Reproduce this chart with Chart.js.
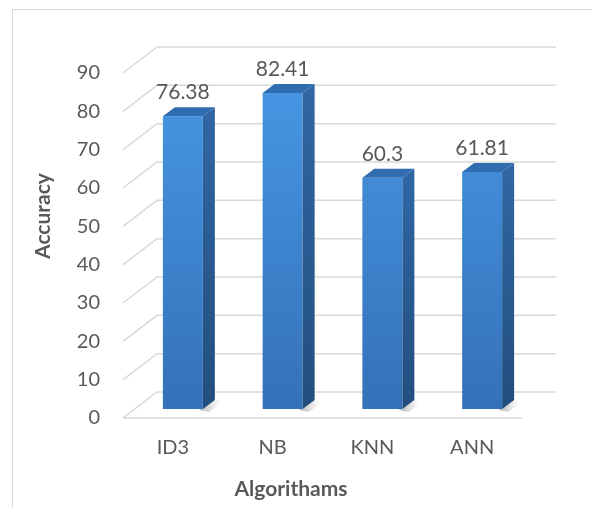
<!DOCTYPE html>
<html>
<head>
<meta charset="utf-8">
<script src="https://cdn.jsdelivr.net/npm/chart.js@4.4.1/dist/chart.umd.min.js"></script>
<style>
  html, body { margin: 0; padding: 0; background: #ffffff; }
  canvas { display: block; }
</style>
</head>
<body>
<canvas id="chart" width="592" height="508"></canvas>
<script>
// Accuracy of each classification algorithm
const categories = ['ID3', 'NB', 'KNN', 'ANN'];
const accuracy = [76.38, 82.41, 60.3, 61.81];
const yTicks = [0, 10, 20, 30, 40, 50, 60, 70, 80, 90];

const TEXT = '#595959';
const GRID = '#d9d9d9';
const FONT = 'Lato, "Open Sans", sans-serif';

// 3D geometry: back wall offset from the front plane, bar plane shift, bar depth
const WALL = { dx: 34, dy: -26 };
const SHIFT = { dx: 10, dy: -9 };
const DEPTH = { dx: 12, dy: -9 };

const box3d = {
  id: 'box3d',
  beforeDraw(chart) {
    const ctx = chart.ctx;
    ctx.save();
    ctx.strokeStyle = GRID;
    ctx.lineWidth = 1;
    ctx.beginPath();
    ctx.moveTo(12.5, chart.height);
    ctx.lineTo(12.5, 9.5);
    ctx.lineTo(chart.width, 9.5);
    ctx.stroke();
    ctx.restore();
  },
  beforeDatasetsDraw(chart) {
    const ctx = chart.ctx;
    const { left, right } = chart.chartArea;
    const y = chart.scales.y;
    ctx.save();
    ctx.strokeStyle = GRID;
    ctx.lineWidth = 1.5;
    yTicks.forEach(v => {
      const py = y.getPixelForValue(v);
      ctx.beginPath();
      ctx.moveTo(left, py);
      ctx.lineTo(left + WALL.dx, py + WALL.dy);
      ctx.lineTo(right + WALL.dx, py + WALL.dy);
      ctx.stroke();
    });
    const p0 = y.getPixelForValue(0);
    ctx.beginPath();
    ctx.moveTo(left, p0);
    ctx.lineTo(right, p0);
    ctx.stroke();

    // soft floor shadows behind the bars
    const meta = chart.getDatasetMeta(0);
    meta.data.forEach(el => {
      const r = el.x + el.width / 2 + SHIFT.dx;
      const b = el.base + SHIFT.dy;
      const g = ctx.createLinearGradient(r, b, r + 18, b);
      g.addColorStop(0, 'rgba(120,120,120,0.45)');
      g.addColorStop(1, 'rgba(160,160,160,0)');
      ctx.fillStyle = g;
      ctx.beginPath();
      ctx.moveTo(r - 4, b + 1);
      ctx.lineTo(r + DEPTH.dx, b + DEPTH.dy);
      ctx.lineTo(r + DEPTH.dx + 10, b + DEPTH.dy + 1);
      ctx.lineTo(r + 6, b + 3);
      ctx.closePath();
      ctx.fill();
    });
    ctx.restore();

    ctx.save();
    ctx.translate(SHIFT.dx, SHIFT.dy);
  },
  afterDatasetsDraw(chart) {
    const ctx = chart.ctx;
    ctx.restore();
    const meta = chart.getDatasetMeta(0);
    ctx.save();
    meta.data.forEach((el, i) => {
      const l = el.x - el.width / 2 + SHIFT.dx;
      const r = el.x + el.width / 2 + SHIFT.dx;
      const t = el.y + SHIFT.dy;
      const b = el.base + SHIFT.dy;

      // side face
      const gs = ctx.createLinearGradient(0, t, 0, b);
      gs.addColorStop(0, '#2f66a3');
      gs.addColorStop(1, '#234e7e');
      ctx.fillStyle = gs;
      ctx.beginPath();
      ctx.moveTo(r, t);
      ctx.lineTo(r + DEPTH.dx, t + DEPTH.dy);
      ctx.lineTo(r + DEPTH.dx, b + DEPTH.dy);
      ctx.lineTo(r, b);
      ctx.closePath();
      ctx.fill();

      // top face
      ctx.fillStyle = '#2f6cb0';
      ctx.beginPath();
      ctx.moveTo(l, t);
      ctx.lineTo(l + DEPTH.dx, t + DEPTH.dy);
      ctx.lineTo(r + DEPTH.dx, t + DEPTH.dy);
      ctx.lineTo(r, t);
      ctx.closePath();
      ctx.fill();

      // value label
      ctx.fillStyle = TEXT;
      ctx.font = '21px ' + FONT;
      ctx.textAlign = 'center';
      ctx.textBaseline = 'middle';
      ctx.fillText(String(accuracy[i]), el.x + SHIFT.dx, t - 23.5);
    });

    // axis titles
    ctx.fillStyle = TEXT;
    ctx.font = 'bold 21px ' + FONT;
    ctx.textAlign = 'center';
    ctx.textBaseline = 'alphabetic';
    ctx.fillText('Algorithams', 291, 496);
    ctx.save();
    ctx.translate(50, 216);
    ctx.rotate(-Math.PI / 2);
    ctx.fillText('Accuracy', 0, 0);
    ctx.restore();
    ctx.restore();
  }
};

new Chart(document.getElementById('chart'), {
  type: 'bar',
  data: {
    labels: categories,
    datasets: [{
      label: 'Accuracy',
      data: accuracy,
      clip: false,
      categoryPercentage: 1,
      barPercentage: 0.401,
      borderWidth: 0,
      backgroundColor(context) {
        const area = context.chart.chartArea;
        if (!area) return '#3f86d4';
        const g = context.chart.ctx.createLinearGradient(0, area.top, 0, area.bottom);
        g.addColorStop(0, '#4898e6');
        g.addColorStop(1, '#3471b8');
        return g;
      }
    }]
  },
  options: {
    responsive: false,
    devicePixelRatio: 1,
    animation: false,
    layout: { padding: { left: 0, right: 70, top: 73, bottom: 0 } },
    plugins: {
      legend: { display: false },
      tooltip: { enabled: false }
    },
    scales: {
      x: {
        grid: { display: false, drawTicks: false },
        border: { display: false },
        ticks: { color: TEXT, font: { family: FONT, size: 20 }, padding: 18 },
        afterFit(scale) { scale.height = 90; }
      },
      y: {
        min: 0,
        max: 90,
        grid: { display: false, drawTicks: false },
        border: { display: false },
        ticks: {
          stepSize: 10,
          color: TEXT,
          font: { family: FONT, size: 20 },
          padding: 23
        },
        afterBuildTicks(scale) { scale.ticks = yTicks.map(v => ({ value: v })); },
        afterFit(scale) { scale.width = 123; }
      }
    }
  },
  plugins: [box3d]
});
</script>
</body>
</html>
